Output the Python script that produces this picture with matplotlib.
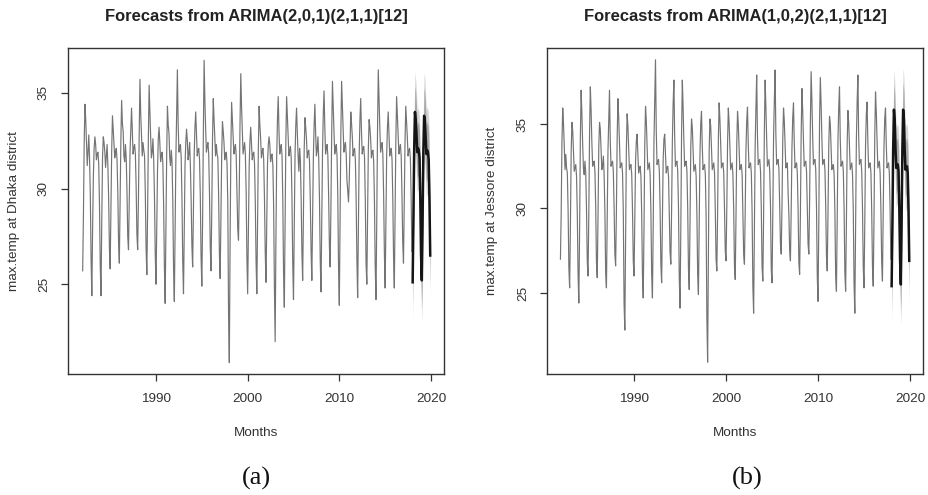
import numpy as np
import matplotlib
matplotlib.use("Agg")
import matplotlib.pyplot as plt

# ---------------- data (monthly) ----------------
start_year = 1982
fc_start = 2018

dhaka_hist = [
    25.7, 28.6, 32.4, 34.4, 33.6, 32.4, 31.2, 31.9, 32.8, 31.6, 29.7, 26.3,  # 1982
    24.4, 27.9, 30.6, 32.1, 32.7, 32.3, 31.5, 31.8, 31.9, 31.3, 29.2, 26.0,  # 1983
    24.4, 28.3, 31.6, 32.7, 32.4, 31.9, 31.1, 31.7, 32.3, 31.2, 29.5, 26.9,  # 1984
    25.8, 28.9, 32.0, 33.8, 33.1, 32.5, 31.6, 31.9, 32.1, 31.5, 29.8, 27.2,  # 1985
    26.1, 29.2, 32.5, 34.6, 33.4, 33.0, 31.7, 31.4, 32.3, 31.6, 29.9, 27.5,  # 1986
    26.8, 29.5, 31.9, 33.1, 34.2, 33.0, 31.8, 32.1, 32.3, 31.8, 30.1, 27.6,  # 1987
    26.8, 29.4, 32.8, 35.7, 33.9, 32.8, 31.7, 32.4, 32.0, 31.7, 29.8, 26.9,  # 1988
    25.5, 28.7, 32.6, 35.4, 34.0, 32.7, 31.6, 31.9, 32.6, 31.5, 29.6, 26.6,  # 1989
    25.0, 28.2, 31.0, 32.6, 33.2, 32.4, 31.4, 31.7, 31.9, 31.3, 29.1, 25.9,  # 1990
    24.0, 27.8, 31.8, 34.3, 33.3, 32.9, 31.6, 31.2, 32.0, 31.4, 29.3, 25.8,  # 1991
    24.1, 28.0, 31.5, 33.8, 36.2, 33.4, 31.9, 32.2, 32.3, 31.6, 29.4, 26.2,  # 1992
    24.5, 28.1, 31.2, 32.4, 33.1, 32.5, 31.5, 31.8, 32.4, 31.2, 29.4, 27.0,  # 1993
    25.9, 28.9, 31.8, 33.2, 34.0, 32.8, 31.7, 32.0, 32.1, 31.5, 29.6, 26.4,  # 1994
    24.9, 28.3, 32.9, 36.7, 34.6, 33.1, 31.9, 32.2, 32.4, 31.8, 29.8, 27.0,  # 1995
    25.7, 28.8, 32.6, 34.7, 33.6, 32.7, 31.7, 32.3, 31.8, 31.6, 29.6, 26.6,  # 1996
    25.3, 28.4, 31.7, 33.5, 33.0, 32.4, 31.5, 31.8, 31.9, 31.3, 29.2, 23.4,  # 1997
    20.9, 27.2, 32.0, 34.5, 33.6, 32.8, 31.8, 32.1, 32.3, 31.7, 29.8, 27.9,  # 1998
    27.3, 29.9, 33.4, 36.0, 34.3, 33.0, 31.8, 32.1, 32.4, 31.8, 29.9, 26.4,  # 1999
    24.5, 27.9, 31.2, 32.5, 33.2, 32.4, 31.5, 31.8, 31.9, 31.3, 29.3, 26.2,  # 2000
    24.5, 28.3, 32.1, 34.3, 33.3, 32.6, 31.6, 31.9, 32.1, 31.5, 29.5, 26.7,  # 2001
    25.1, 28.4, 31.3, 32.3, 32.7, 32.3, 31.4, 31.7, 31.8, 31.2, 29.1, 24.9,  # 2002
    22.0, 27.3, 31.6, 33.6, 34.8, 33.0, 31.8, 32.1, 32.3, 31.7, 29.4, 25.6,  # 2003
    23.8, 28.0, 32.5, 34.8, 33.8, 32.8, 31.7, 32.0, 32.2, 31.6, 29.5, 26.1,  # 2004
    24.2, 28.2, 31.7, 33.3, 34.2, 32.9, 31.7, 30.9, 32.1, 31.5, 29.5, 26.7,  # 2005
    25.2, 28.6, 32.0, 33.7, 33.2, 32.6, 31.6, 31.9, 32.0, 31.4, 29.4, 26.8,  # 2006
    25.2, 28.5, 31.6, 33.3, 34.4, 32.9, 31.7, 32.0, 32.7, 31.6, 29.5, 26.3,  # 2007
    24.6, 28.3, 31.9, 33.9, 35.1, 33.2, 31.8, 32.1, 32.3, 31.7, 29.6, 27.0,  # 2008
    25.9, 29.0, 32.8, 35.6, 34.2, 33.0, 31.8, 32.1, 32.3, 31.7, 29.6, 25.8,  # 2009
    23.9, 28.2, 32.9, 35.6, 34.3, 33.1, 31.9, 32.2, 32.4, 31.8, 30.4, 29.9,  # 2010
    29.3, 30.4, 32.3, 34.0, 33.4, 32.7, 31.7, 32.0, 32.1, 31.5, 29.5, 26.3,  # 2011
    24.3, 28.0, 31.8, 33.6, 34.7, 33.0, 31.8, 32.1, 32.2, 31.6, 29.4, 26.1,  # 2012
    25.0, 28.5, 32.1, 33.6, 33.2, 32.6, 31.6, 31.9, 32.0, 31.4, 29.3, 25.9,  # 2013
    24.2, 28.3, 33.0, 36.2, 34.6, 33.2, 31.9, 32.2, 32.4, 31.8, 29.7, 26.6,  # 2014
    24.8, 28.5, 31.8, 33.2, 34.0, 32.8, 31.7, 32.0, 32.1, 31.5, 29.5, 26.4,  # 2015
    24.8, 28.6, 32.5, 34.8, 33.8, 32.9, 31.8, 32.1, 32.3, 31.7, 29.7, 27.2,  # 2016
    26.1, 29.1, 32.4, 34.3, 33.5, 32.7, 31.7, 32.0, 32.1, 31.6, 29.6, 26.7,  # 2017
]
dhaka_fc = [
    25.1, 28.4, 32.0, 34.0, 33.6, 32.9, 31.9, 32.1, 32.0, 31.6, 29.5, 26.5,  # 2018
    25.2, 28.3, 31.9, 33.8, 33.5, 32.7, 31.8, 32.0, 31.9, 31.5, 29.4, 26.5,  # 2019
]
dhaka_hw80 = [1.30, 1.33, 1.35, 1.36, 1.37, 1.38, 1.38, 1.39, 1.39, 1.39, 1.40, 1.40,
              1.45, 1.46, 1.46, 1.47, 1.47, 1.47, 1.48, 1.48, 1.48, 1.48, 1.49, 1.49]
dhaka_hw95 = [2.00, 2.04, 2.07, 2.09, 2.10, 2.11, 2.12, 2.12, 2.13, 2.13, 2.14, 2.14,
              2.22, 2.23, 2.24, 2.24, 2.25, 2.25, 2.26, 2.26, 2.26, 2.27, 2.27, 2.27]

jessore_hist = [
    27.0, 29.8, 34.0, 35.95, 35.0, 33.6, 32.3, 33.2, 32.4, 32.1, 29.9, 26.5,  # 1982
    25.3, 28.9, 33.3, 35.1, 34.6, 33.4, 32.2, 32.4, 32.6, 31.9, 29.7, 26.1,   # 1983
    24.4, 28.7, 34.2, 37.0, 35.6, 33.8, 32.4, 32.0, 32.8, 32.1, 30.0, 26.9,   # 1984
    26.0, 29.6, 34.5, 37.2, 35.8, 33.9, 32.5, 32.7, 32.8, 32.2, 30.1, 26.8,   # 1985
    25.9, 29.4, 33.6, 35.1, 34.7, 33.5, 32.3, 32.5, 33.1, 32.0, 29.8, 26.2,   # 1986
    25.3, 29.1, 33.4, 35.3, 37.0, 34.0, 32.5, 32.7, 32.8, 32.2, 30.1, 27.3,   # 1987
    26.6, 29.8, 34.2, 36.5, 35.4, 33.8, 32.4, 32.6, 32.7, 32.1, 29.8, 24.4,   # 1988
    22.8, 28.2, 33.5, 35.6, 34.9, 33.6, 32.3, 32.5, 32.6, 32.0, 29.9, 26.9,   # 1989
    26.0, 29.3, 32.8, 34.0, 34.4, 33.3, 32.1, 32.4, 32.5, 31.9, 29.6, 26.0,   # 1990
    24.7, 28.8, 33.8, 36.05, 35.2, 33.7, 32.3, 32.5, 32.7, 32.0, 29.8, 26.1,  # 1991
    24.7, 28.9, 34.0, 36.4, 38.8, 34.6, 32.6, 32.8, 32.9, 32.2, 30.0, 26.7,   # 1992
    25.6, 29.2, 32.9, 34.1, 34.4, 33.3, 32.1, 32.4, 32.5, 31.9, 29.7, 27.4,   # 1993
    26.7, 29.9, 34.0, 36.2, 37.6, 34.3, 32.5, 32.7, 32.8, 32.2, 30.0, 25.9,   # 1994
    24.1, 28.6, 34.4, 37.6, 36.0, 34.0, 32.5, 32.7, 32.8, 32.2, 30.0, 26.4,   # 1995
    25.2, 29.0, 33.6, 35.3, 34.8, 33.5, 32.2, 32.4, 32.6, 31.9, 29.7, 26.1,   # 1996
    24.9, 28.8, 33.2, 35.0, 35.75, 33.7, 32.3, 32.5, 32.6, 32.0, 29.6, 23.5,  # 1997
    20.9, 27.6, 33.4, 35.3, 34.9, 33.6, 32.3, 32.5, 32.7, 32.1, 29.9, 27.0,   # 1998
    26.3, 29.7, 34.1, 36.25, 35.3, 33.8, 32.4, 32.6, 32.7, 32.1, 30.0, 27.5,  # 1999
    26.9, 30.0, 33.9, 35.95, 35.1, 33.7, 32.3, 32.5, 32.7, 32.0, 29.9, 26.6,  # 2000
    25.8, 29.5, 33.8, 35.75, 35.0, 33.6, 32.3, 32.5, 32.6, 32.0, 29.8, 27.3,  # 2001
    26.7, 29.8, 33.5, 35.2, 36.0, 33.8, 32.4, 32.6, 32.7, 32.1, 29.8, 25.4,   # 2002
    23.8, 28.5, 33.7, 36.0, 37.9, 34.3, 32.6, 32.8, 32.9, 32.2, 30.0, 26.5,   # 2003
    25.7, 29.5, 34.6, 37.6, 36.0, 34.1, 32.5, 32.7, 32.9, 32.2, 30.1, 26.4,   # 2004
    25.6, 29.6, 34.2, 36.4, 38.2, 34.4, 32.6, 32.8, 32.9, 32.3, 30.2, 27.9,   # 2005
    27.3, 30.2, 34.1, 35.95, 35.2, 33.7, 32.4, 32.6, 32.7, 30.9, 29.6, 27.5,  # 2006
    26.9, 29.9, 33.6, 35.4, 36.25, 33.9, 32.4, 32.6, 32.7, 32.1, 29.9, 26.8,  # 2007
    26.1, 29.6, 34.4, 37.1, 35.8, 34.0, 32.5, 32.7, 32.8, 32.2, 30.1, 27.9,   # 2008
    27.3, 30.4, 35.0, 38.1, 36.4, 34.3, 32.6, 32.8, 32.9, 32.3, 30.1, 26.0,   # 2009
    24.5, 29.1, 35.2, 37.76, 36.2, 34.2, 32.6, 32.8, 32.9, 32.3, 30.2, 27.2,  # 2010
    26.3, 29.7, 33.7, 35.46, 35.0, 33.6, 32.3, 32.5, 32.6, 32.0, 29.8, 26.0,  # 2011
    25.1, 29.2, 34.0, 36.0, 37.2, 34.1, 32.5, 32.7, 32.8, 32.2, 30.0, 26.2,   # 2012
    25.1, 29.1, 33.8, 35.8, 35.1, 33.7, 32.3, 32.5, 32.7, 32.0, 29.8, 25.5,   # 2013
    23.8, 28.6, 34.0, 36.3, 37.9, 34.3, 32.6, 32.8, 32.9, 32.2, 30.0, 26.5,   # 2014
    25.3, 29.2, 33.8, 35.6, 36.3, 33.9, 32.4, 32.6, 32.7, 32.1, 29.9, 26.6,   # 2015
    25.4, 29.3, 34.3, 36.9, 35.7, 34.0, 32.4, 32.6, 32.8, 32.1, 30.0, 26.9,   # 2016
    25.7, 29.4, 33.6, 35.3, 35.95, 33.8, 32.4, 32.6, 32.7, 32.1, 29.9, 27.0,  # 2017
]
jessore_fc = [
    25.4, 29.0, 33.5, 35.85, 35.3, 33.6, 32.4, 32.6, 32.6, 32.2, 30.0, 27.0,  # 2018
    25.5, 29.1, 33.5, 35.85, 35.3, 33.5, 32.3, 32.5, 32.5, 32.1, 29.9, 26.9,  # 2019
]
jessore_hw80 = [1.45, 1.48, 1.50, 1.52, 1.53, 1.53, 1.54, 1.54, 1.55, 1.55, 1.55, 1.56,
                1.60, 1.61, 1.62, 1.62, 1.63, 1.63, 1.63, 1.64, 1.64, 1.64, 1.65, 1.65]
jessore_hw95 = [2.25, 2.28, 2.31, 2.33, 2.35, 2.36, 2.36, 2.37, 2.37, 2.38, 2.38, 2.38,
                2.45, 2.46, 2.47, 2.47, 2.48, 2.48, 2.49, 2.49, 2.49, 2.50, 2.50, 2.50]

titles = ["Forecasts from ARIMA(2,0,1)(2,1,1)[12]",
          "Forecasts from ARIMA(1,0,2)(2,1,1)[12]"]
ylabels = ["max.temp at Dhaka district", "max.temp at Jessore district"]
xlabel = "Months"
tags = ["(a)", "(b)"]
xticks = [1990, 2000, 2010, 2020]
yticks = [25, 30, 35]

# ---------------- layout ----------------
W, H = 929, 495
fig = plt.figure(figsize=(W / 100, H / 100), dpi=100)
fig.patch.set_facecolor("white")

def px_rect(x0, y0, x1, y1):
    return [x0 / W, 1 - y1 / H, (x1 - x0) / W, (y1 - y0) / H]

panels = [
    dict(rect=px_rect(68, 48, 444, 374), xlim=(1980.40, 2021.42), ylim=(20.31, 37.34),
         hist=dhaka_hist, fc=dhaka_fc, hw80=dhaka_hw80, hw95=dhaka_hw95,
         ylab_x=14, tag_x=256),
    dict(rect=px_rect(547, 48, 923, 374), xlim=(1980.54, 2021.41), ylim=(20.2, 39.5),
         hist=jessore_hist, fc=jessore_fc, hw80=jessore_hw80, hw95=jessore_hw95,
         ylab_x=492, tag_x=747),
]

sans = ["Liberation Sans", "DejaVu Sans"]
serif = ["Liberation Serif", "DejaVu Serif"]

for i, p in enumerate(panels):
    ax = fig.add_axes(p["rect"])
    hist = np.array(p["hist"])
    fc = np.array(p["fc"])
    hw80 = np.array(p["hw80"])
    hw95 = np.array(p["hw95"])
    t_hist = start_year + np.arange(len(hist)) / 12
    t_fc = fc_start + np.arange(len(fc)) / 12

    ax.fill_between(t_fc, fc - hw95, fc + hw95, color="#d6d6d6", lw=0, zorder=1)
    ax.fill_between(t_fc, fc - hw80, fc + hw80, color="#a8a8a8", lw=0, zorder=2)
    ax.plot(t_hist, hist, color="#747474", lw=0.85, zorder=3)
    ax.plot(t_fc, fc, color="#151515", lw=1.8, zorder=4)

    ax.set_xlim(*p["xlim"])
    ax.set_ylim(*p["ylim"])
    ax.set_xticks(xticks)
    ax.set_xticklabels([str(v) for v in xticks], fontfamily=sans, fontsize=9.7, color="#333333")
    ax.set_yticks(yticks)
    ax.set_yticklabels([str(v) for v in yticks], fontfamily=sans, fontsize=9.7,
                       color="#333333", rotation=90, va="center")
    ax.tick_params(axis="both", direction="out", length=5, width=0.9, color="#333333")
    ax.tick_params(axis="x", pad=9)
    ax.tick_params(axis="y", pad=8)
    for s in ax.spines.values():
        s.set_color("#333333")
        s.set_linewidth(1.0)

    x0, y0, w, h = p["rect"]
    cx = x0 + w / 2
    fig.text(cx, 1 - 17 / H, titles[i], ha="center", va="center",
             fontfamily=sans, fontsize=11.9, fontweight="bold", color="#222222")
    fig.text(p["ylab_x"] / W, y0 + h / 2, ylabels[i], rotation=90, ha="center", va="center",
             fontfamily=sans, fontsize=9.7, color="#333333")
    fig.text(cx, 1 - 433 / H, xlabel, ha="center", va="center",
             fontfamily=sans, fontsize=9.7, color="#333333")
    fig.text(p["tag_x"] / W, 1 - 478 / H, tags[i], ha="center", va="center",
             fontfamily=serif, fontsize=19, color="#111111")

fig.savefig("out.png", dpi=100, facecolor="white")
